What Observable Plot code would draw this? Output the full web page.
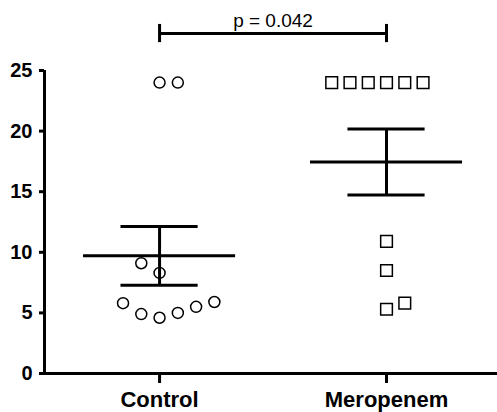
<!DOCTYPE html>
<html>
<head>
<meta charset="utf-8">
<script src="https://cdn.jsdelivr.net/npm/d3@7"></script>
<script src="https://cdn.jsdelivr.net/npm/@observablehq/plot@0.6"></script>
<style>
  html, body { margin: 0; padding: 0; background: #fff; }
  svg { display: block; font-family: "Liberation Sans", Arial, sans-serif; }
</style>
</head>
<body>
<div id="chart"></div>
<script>
// ---- data ----
const groups = ["Control", "Meropenem"];
const controlValues = [24, 24, 9.1, 8.3, 5.8, 4.9, 4.6, 5.0, 5.5, 5.9];
const controlColumns = [0, 1, -1, 0, -2, -1, 0, 1, 2, 3];
const meropenemValues = [24, 24, 24, 24, 24, 24, 10.9, 8.5, 5.3, 5.8];
const meropenemColumns = [-3, -2, -1, 0, 1, 2, 0, 0, 0, 1];
const yTicks = [0, 5, 10, 15, 20, 25];
const comparison = { from: "Control", to: "Meropenem", label: "p = 0.042" };

// ---- derived tables ----
const colStep = 0.0805;
const points = [
  ...controlValues.map((v, i) => ({ group: "Control", value: v, col: controlColumns[i] })),
  ...meropenemValues.map((v, i) => ({ group: "Meropenem", value: v, col: meropenemColumns[i] }))
];
const stats = groups.map((g, gi) => {
  const vals = points.filter(p => p.group === g).map(p => p.value);
  const mean = d3.mean(vals);
  const sem = d3.deviation(vals) / Math.sqrt(vals.length);
  return { group: g, gi, mean, lo: mean - sem, hi: mean + sem };
});
const gx = g => groups.indexOf(g);
const xDomain = [-0.507, 1.489];
const yMax = d3.max(yTicks);
const bracketY = yMax * 1.122;
const bracket = [{ x1: gx(comparison.from), x2: gx(comparison.to), y: bracketY, label: comparison.label }];

const chart = Plot.plot({
  width: 497,
  height: 412,
  marginTop: 70,
  marginBottom: 39,
  marginLeft: 44,
  marginRight: 0,
  style: { fontFamily: '"Liberation Sans", Arial, sans-serif', background: "#fff", color: "#000", overflow: "visible" },
  x: { domain: xDomain },
  y: { domain: [0, yMax] },
  marks: [
    Plot.axisY({ ticks: yTicks, tickSize: 5, tickPadding: 7, fontSize: 20, fontWeight: "bold", strokeWidth: 3, label: null }),
    Plot.axisX({ ticks: [0, 1], tickFormat: i => groups[i], tickSize: 10, tickPadding: 8, fontSize: 22, fontWeight: "bold", strokeWidth: 3, label: null }),
    Plot.ruleX([xDomain[0]], { y1: 0, y2: yMax, strokeWidth: 3 }),
    Plot.ruleY([0], { strokeWidth: 3 }),
    // mean lines
    Plot.ruleY(stats, { y: "mean", x1: d => d.gi - 0.335, x2: d => d.gi + 0.335, strokeWidth: 3 }),
    // SEM caps and stems
    Plot.ruleY(stats, { y: "hi", x1: d => d.gi - 0.17, x2: d => d.gi + 0.17, strokeWidth: 3 }),
    Plot.ruleY(stats, { y: "lo", x1: d => d.gi - 0.17, x2: d => d.gi + 0.17, strokeWidth: 3 }),
    Plot.ruleX(stats, { x: "gi", y1: "lo", y2: "hi", strokeWidth: 3 }),
    // points
    Plot.dot(points.filter(p => p.group === "Control"), {
      x: d => gx(d.group) + d.col * colStep, y: "value",
      symbol: "circle", r: 5.5, stroke: "#000", fill: "none", strokeWidth: 1.5
    }),
    Plot.dot(points.filter(p => p.group === "Meropenem"), {
      x: d => gx(d.group) + d.col * colStep, y: "value",
      symbol: "square", r: 6.6, stroke: "#000", fill: "none", strokeWidth: 1.5
    }),
    // significance bracket
    Plot.ruleY(bracket, { y: "y", x1: "x1", x2: "x2", strokeWidth: 3, clip: false }),
    Plot.ruleX(bracket, { x: "x1", y1: d => d.y - 0.75, y2: d => d.y + 0.75, strokeWidth: 3 }),
    Plot.ruleX(bracket, { x: "x2", y1: d => d.y - 0.75, y2: d => d.y + 0.75, strokeWidth: 3 }),
    Plot.text(bracket, { x: d => (d.x1 + d.x2) / 2, y: "y", text: "label", dy: -7, lineAnchor: "bottom", fontSize: 19, fill: "#000" })
  ]
});
document.getElementById("chart").appendChild(chart);
</script>
</body>
</html>
